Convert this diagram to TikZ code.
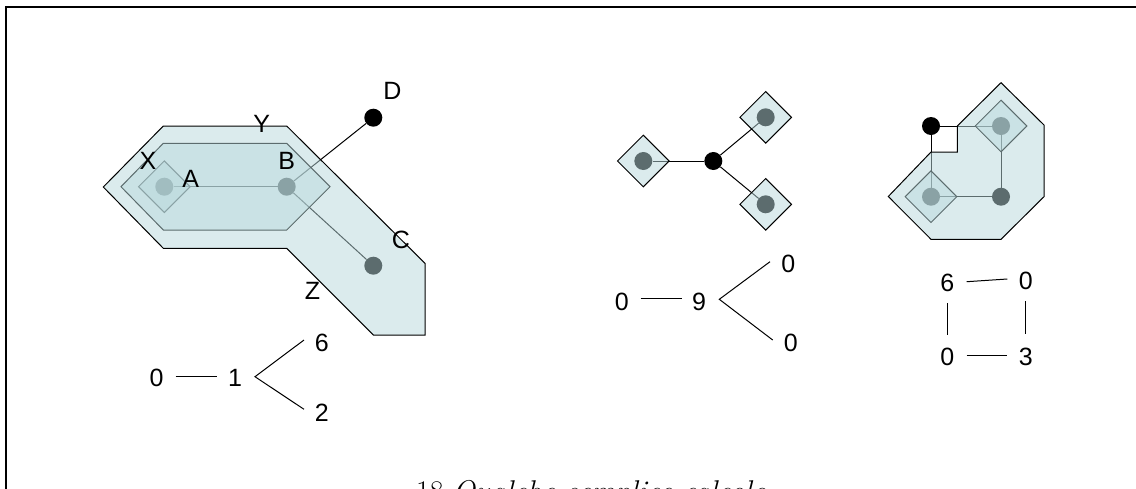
\documentclass[tikz,border=0pt]{standalone}
\usepackage{fontspec}
\newfontfamily\labfont{Liberation Sans}
\usetikzlibrary{shapes.geometric}
\definecolor{regfill}{RGB}{184,216,220}
\tikzset{
  dot/.style={circle, fill=black, inner sep=0pt, minimum size=18pt},
  region/.style={fill=regfill, fill opacity=0.5, draw=black, line width=1pt},
  diam/.style={diamond, region, inner sep=0pt, minimum width=52pt, minimum height=52pt},
  lab/.style={font=\labfont\fontsize{25}{29}\selectfont, inner sep=0pt},
  edge/.style={line width=1pt, draw=black},
  frame/.style={line width=2pt, draw=black}
}
\begin{document}
\begin{tikzpicture}[x=1pt,y=-1pt]
\useasboundingbox (0,0) rectangle (1136,488);
\draw[frame] (5.7,7.3) rectangle (1160,530);

% ---------- figure 1 ----------
\node[dot] (A) at (164.3,186.7) {};
\node[dot] (B) at (286.7,186.7) {};
\node[dot] (C) at (373.3,265.7) {};
\node[dot] (D) at (373.3,117.7) {};
\draw[edge] (A) -- (B);
\draw[edge] (B) -- (C);
\draw[edge] (B) -- (D);
\node[diam] (dA) at (164.3,186.7) {};
\path[region] (121,186.7) -- (163.3,143.3) -- (286.7,143.3) -- (330,186.7) -- (286.7,230) -- (163.3,230) -- cycle;
\path[region] (103.3,187) -- (163.3,126) -- (286.7,126) -- (425,263.3) -- (425,335) -- (373.3,335) -- (286.7,248.3) -- (163.3,248.3) -- cycle;
\node[lab] (lX) at (148,161.3) {X};
\node[lab] (lY) at (261.7,124) {Y};
\node[lab] (lA) at (190.8,178.7) {A};
\node[lab] (lB) at (286.7,161.3) {B};
\node[lab] (lC) at (400.8,240) {C};
\node[lab] (lD) at (392.3,90.5) {D};
\node[lab] (lZ) at (312.5,290.8) {Z};

% ---------- figure 2 ----------
\node[dot] (M) at (713.3,161) {};
\node[dot] (L) at (643.3,161) {};
\node[dot] (T) at (765.7,117.3) {};
\node[dot] (R) at (765.7,204.3) {};
\draw[edge] (M) -- (L);
\draw[edge] (M) -- (T);
\draw[edge] (M) -- (R);
\node[diam] (dL) at (643.3,161) {};
\node[diam] (dT) at (765.7,117.3) {};
\node[diam] (dR) at (765.7,204.3) {};

% ---------- figure 3 ----------
\node[dot] (K) at (931,126) {};
\node[dot] (P) at (1001,126) {};
\node[dot] (Q) at (931,196.7) {};
\node[dot] (S) at (1001,196.7) {};
\draw[edge] (K) -- (P);
\draw[edge] (K) -- (Q);
\draw[edge] (P) -- (S);
\draw[edge] (Q) -- (S);
\node[diam] (dP) at (1001,126) {};
\node[diam] (dQ) at (931,196.7) {};
\path[region] (888.3,196.5) -- (931,152) -- (957.3,152) -- (957.3,126) -- (1001,82.7) -- (1044,125) -- (1044,196.7) -- (1001,239.3) -- (931,239.3) -- cycle;

% ---------- tree 1 ----------
\node[lab] (a0) at (156.7,378.3) {0};
\node[lab] (a1) at (235,378.3) {1};
\node[lab] (a6) at (321.7,342.7) {6};
\node[lab] (a2) at (321.7,412.7) {2};
\coordinate (a01s) at (175.7,376.7);
\coordinate (a01e) at (217.3,376.7);
\coordinate (af) at (255,376.7);
\coordinate (afu) at (304,340);
\coordinate (afd) at (304,409.3);
\draw[edge] (a01s) -- (a01e);
\draw[edge] (afu) -- (af) -- (afd);

% ---------- tree 2 ----------
\node[lab] (b0) at (621.7,301.7) {0};
\node[lab] (b9) at (699,301.7) {9};
\node[lab] (bu) at (788.3,264) {0};
\node[lab] (bd) at (790.7,343.3) {0};
\coordinate (b09s) at (640.7,298.3);
\coordinate (b09e) at (682.3,298.3);
\coordinate (bf) at (719.3,299.3);
\coordinate (bfu) at (770,261.7);
\coordinate (bfd) at (772.7,340);
\draw[edge] (b09s) -- (b09e);
\draw[edge] (bfu) -- (bf) -- (bfd);

% ---------- tree 3 ----------
\node[lab] (c6) at (947.3,283.3) {6};
\node[lab] (c0a) at (1025.7,281) {0};
\node[lab] (c0b) at (947.3,357) {0};
\node[lab] (c3) at (1025.7,357) {3};
\coordinate (ct1) at (966.7,281.7);
\coordinate (ct2) at (1007.3,279);
\coordinate (cl1) at (947.7,303.3);
\coordinate (cl2) at (947.7,335);
\coordinate (cr1) at (1025.7,301);
\coordinate (cr2) at (1025.7,334.3);
\coordinate (cb1) at (966.7,355.7);
\coordinate (cb2) at (1007.3,355.7);
\draw[edge] (ct1) -- (ct2);
\draw[edge] (cl1) -- (cl2);
\draw[edge] (cr1) -- (cr2);
\draw[edge] (cb1) -- (cb2);

% ---------- caption ----------
\node[anchor=base, inner sep=0pt, font=\fontsize{30}{34}\selectfont] (cap) at (596,501.5) {18 \textit{Qualche semplice calcolo.}};
\end{tikzpicture}
\end{document}
